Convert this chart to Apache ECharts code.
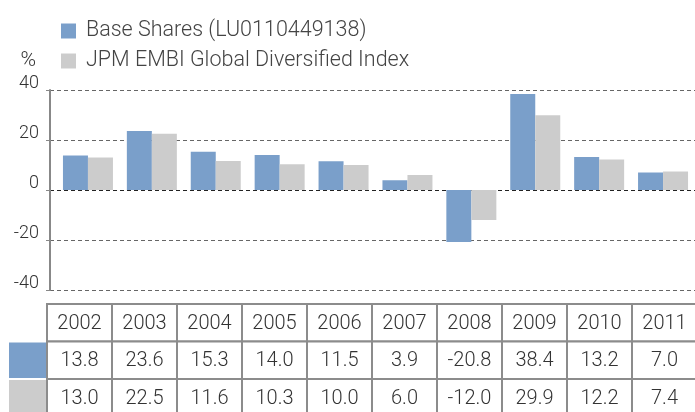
<!DOCTYPE html>
<html>
<head>
<meta charset="utf-8">
<script src="https://cdn.jsdelivr.net/npm/echarts@6/dist/echarts.min.js"></script>
<style>
html,body{margin:0;padding:0;background:#fff;}
#chart{width:695px;height:412px;}
</style>
</head>
<body>
<div id="chart"></div>
<script>
var years = ['2002','2003','2004','2005','2006','2007','2008','2009','2010','2011'];
var baseShares = [13.8, 23.6, 15.3, 14.0, 11.5, 3.9, -20.8, 38.4, 13.2, 7.0];
var indexValues = [13.0, 22.5, 11.6, 10.3, 10.0, 6.0, -12.0, 29.9, 12.2, 7.4];
var seriesNames = ['Base Shares (LU0110449138)', 'JPM EMBI Global Diversified Index'];
var seriesColors = ['#7a9fca', '#cccccc'];
var yMin = -40, yMax = 40, yStep = 20;

var FONT = 'Roboto, "Liberation Sans", sans-serif';
var chart = echarts.init(document.getElementById('chart'));

// data table below the chart
var tbl = { left: 47, colW: 65, top: 304, rowH: 37.5, swatchLeft: 9 };
var tableEls = [];
var rows = [years, baseShares, indexValues];
for (var r = 0; r < rows.length; r++) {
  for (var c = 0; c < years.length; c++) {
    var x0 = tbl.left + c * tbl.colW, y0 = tbl.top + r * tbl.rowH;
    tableEls.push({ type: 'rect', shape: { x: x0, y: y0, width: tbl.colW, height: tbl.rowH },
      style: { fill: '#fff', stroke: '#8c8c8c', lineWidth: 2 }, z: 10 });
    var v = rows[r][c];
    var txt = r === 0 ? v : v.toFixed(1);
    tableEls.push({ type: 'text', x: x0 + tbl.colW / 2, y: y0 + tbl.rowH / 2 + 1, z: 11,
      style: { text: txt, align: 'center', verticalAlign: 'middle', fill: '#333',
        fontSize: 20, fontFamily: FONT, fontWeight: 300 } });
  }
  if (r > 0) {
    tableEls.push({ type: 'rect', shape: { x: tbl.swatchLeft, y: tbl.top + r * tbl.rowH + 1,
      width: tbl.left - tbl.swatchLeft - 1, height: tbl.rowH - 2 },
      style: { fill: seriesColors[r - 1] }, z: 10 });
  }
}

var option = {
  animation: false,
  textStyle: { fontFamily: FONT },
  legend: {
    orient: 'vertical', left: 61, top: 20, padding: 0,
    itemWidth: 15, itemHeight: 15, itemGap: 8, icon: 'rect',
    textStyle: { fontSize: 21.5, color: '#444', fontWeight: 300, fontFamily: FONT, padding: [0, 0, 0, 5] },
    data: seriesNames
  },
  grid: [
    { left: 56, top: 90, width: 644, height: 200 },
    { left: 50, top: 90, width: 645, height: 200 }
  ],
  xAxis: [
    { type: 'category', gridIndex: 0, data: years, show: false },
    { type: 'value', gridIndex: 1, show: false }
  ],
  yAxis: [
    { type: 'value', gridIndex: 0, min: yMin, max: yMax, interval: yStep, show: false },
    { type: 'value', gridIndex: 1, min: yMin, max: yMax, interval: yStep,
      name: '%', nameLocation: 'end', nameGap: 19,
      nameTextStyle: { fontSize: 21, color: '#333', fontFamily: FONT, fontWeight: 300, align: 'right', padding: [0, 14, 0, 0] },
      axisLine: { show: true, lineStyle: { color: '#888', width: 2 } },
      axisTick: { show: true, length: 4, lineStyle: { color: '#888', width: 1 } },
      axisLabel: { fontSize: 18, color: '#333', fontFamily: FONT, fontWeight: 300, margin: 11,
        verticalAlign: 'bottom', lineHeight: 14 },
      splitLine: { show: true, lineStyle: { type: [4, 3], width: 1,
        color: ['#666', '#666', '#222', '#666', '#666'] } }
    }
  ],
  series: [
    { name: seriesNames[0], type: 'bar', xAxisIndex: 0, yAxisIndex: 0, data: baseShares,
      barWidth: 25, barGap: '0%', itemStyle: { color: seriesColors[0] }, z: 3 },
    { name: seriesNames[1], type: 'bar', xAxisIndex: 0, yAxisIndex: 0, data: indexValues,
      barWidth: 25, barGap: '0%', itemStyle: { color: seriesColors[1] }, z: 3 }
  ],
  graphic: tableEls
};
chart.setOption(option);
</script>
</body>
</html>
